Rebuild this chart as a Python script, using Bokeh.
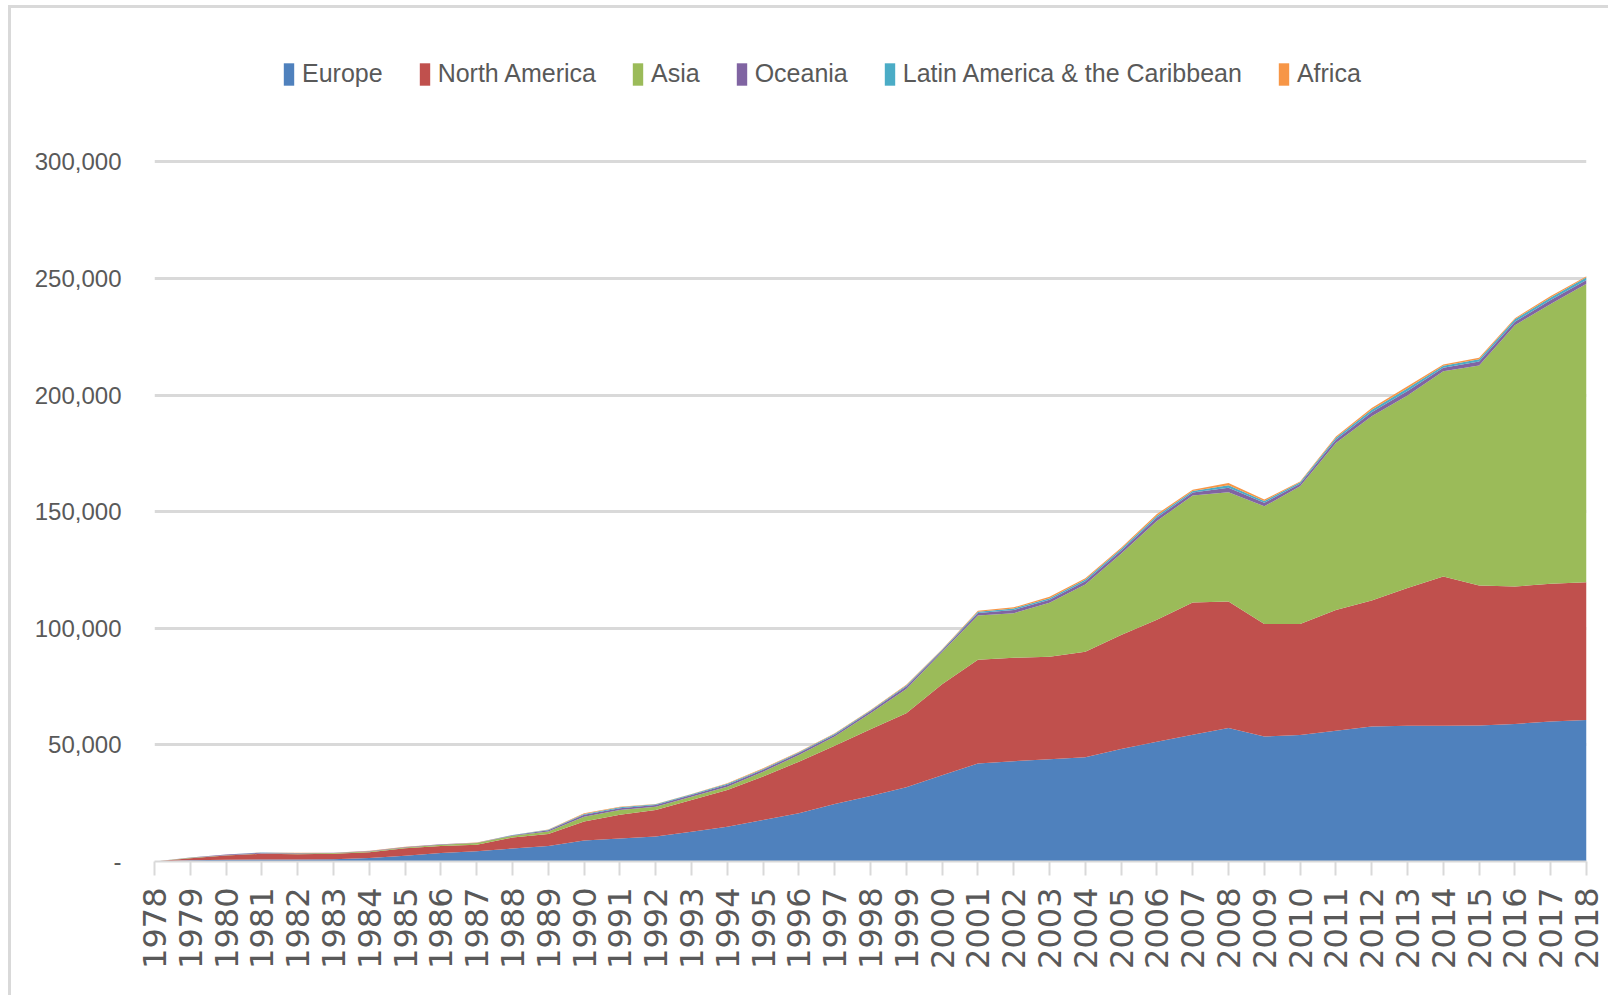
import numpy as np
from bokeh.plotting import figure
from bokeh.models import (ColumnDataSource, Range1d, FixedTicker, NumeralTickFormatter,
                          Legend, LegendItem)
from bokeh.embed import file_html
from bokeh.resources import INLINE

years = list(range(1978, 2019))
europe = [0, 500, 800, 900, 900, 1000, 1500, 2500, 3600, 4400,
          5600, 6600, 9000, 9900, 10700, 12800, 14900, 17800, 20700, 24700,
          28100, 31800, 37000, 42000, 43000, 43800, 44700, 48200, 51300, 54400,
          57200, 53600, 54300, 56100, 57900, 58200, 58200, 58300, 59000, 60000,
          60700]
north_america = [0, 900, 1800, 2400, 2200, 2300, 2500, 3200, 3100, 2800,
                 4700, 5200, 8100, 10100, 11400, 13600, 15800, 18600, 22100, 24900,
                 28600, 31800, 39000, 44500, 44400, 44000, 45300, 48900, 52400, 56700,
                 54300, 48300, 47600, 51800, 54000, 59100, 64000, 60100, 58900, 59100,
                 59000]
asia = [0, 200, 100, 100, 300, 300, 300, 300, 500, 700,
        700, 1100, 2100, 2100, 1400, 1400, 1400, 2100, 2900, 4000,
        6900, 10400, 13800, 19000, 19100, 23200, 28800, 34900, 42300, 45900,
        46800, 50400, 59000, 71600, 79000, 82500, 88000, 94300, 112100, 120000,
        128100]
oceania = [0, 100, 250, 400, 250, 100, 200, 200, 150, 150,
           300, 500, 800, 700, 700, 700, 800, 800, 800, 800,
           800, 1000, 700, 1100, 1400, 1300, 1400, 1300, 1500, 1200,
           2000, 1500, 1100, 1400, 1800, 2000, 1500, 1700, 1500, 1700,
           1600]
latin_america = [0, 0, 30, 50, 30, 0, 50, 50, 30, 30,
                 50, 200, 400, 500, 300, 300, 400, 400, 350, 350,
                 350, 450, 300, 500, 600, 600, 700, 700, 800, 700,
                 1000, 800, 600, 800, 1000, 1200, 900, 1000, 1000, 1100,
                 1100]
africa = [0, 0, 20, 50, 20, 0, 50, 50, 20, 20,
          50, 100, 300, 200, 200, 200, 300, 300, 250, 250,
          250, 350, 200, 400, 500, 600, 600, 500, 700, 500,
          1000, 600, 400, 600, 800, 800, 500, 600, 500, 600,
          500]

series_names = ["Europe", "North America", "Asia", "Oceania",
                "Latin America & the Caribbean", "Africa"]
series_keys = ["europe", "north_america", "asia", "oceania", "latin_america", "africa"]
colors = ["#4F81BD", "#C0504D", "#9BBB59", "#8064A2", "#4BACC6", "#F79646"]
y_ticks = [0, 50000, 100000, 150000, 200000, 250000, 300000]

source = ColumnDataSource(dict(year=years, europe=europe, north_america=north_america,
                               asia=asia, oceania=oceania, latin_america=latin_america,
                               africa=africa))

# frame extends to the canvas top so the legend can sit inside it, above the 300,000 line
p = figure(width=1600, height=990, output_backend="svg", toolbar_location=None,
           x_range=Range1d(1978, 2018), y_range=Range1d(0, 365800),
           min_border_left=143, min_border_right=25, min_border_top=0,
           min_border_bottom=137)
p.styles = {"border-top": "3px solid #d9d9d9", "border-left": "3px solid #d9d9d9",
            "margin-left": "8px", "margin-top": "5px"}
p.outline_line_color = None
p.background_fill_color = "white"

renderers = p.varea_stack(stackers=series_keys, x="year", color=colors, source=source)

p.xgrid.grid_line_color = None
p.ygrid.grid_line_color = "#d9d9d9"
p.ygrid.grid_line_width = 3

p.xaxis.ticker = FixedTicker(ticks=years)
p.xaxis.major_label_orientation = np.pi / 2
p.xaxis.axis_line_color = "#d9d9d9"
p.xaxis.axis_line_width = 2
p.xaxis.major_tick_line_color = "#d9d9d9"
p.xaxis.major_tick_line_width = 2
p.xaxis.major_tick_out = 14
p.xaxis.major_tick_in = 0
p.xaxis.minor_tick_line_color = None
p.xaxis.major_label_standoff = 12
p.xaxis.major_label_text_font = "DejaVu Sans"
p.xaxis.major_label_text_font_size = "32px"
p.xaxis.major_label_text_color = "#595959"

p.yaxis.ticker = FixedTicker(ticks=y_ticks)
p.yaxis.formatter = NumeralTickFormatter(format="0,0")
p.yaxis.major_label_overrides = {0: "-"}
p.yaxis.axis_line_color = None
p.yaxis.major_tick_line_color = None
p.yaxis.minor_tick_line_color = None
p.yaxis.major_tick_out = 0
p.yaxis.major_tick_in = 0
p.yaxis.major_label_standoff = 33
p.yaxis.major_label_text_font = "Liberation Sans"
p.yaxis.major_label_text_font_size = "24px"
p.yaxis.major_label_text_color = "#595959"

items = [LegendItem(label=n, renderers=[r]) for n, r in zip(series_names, renderers)]
legend = Legend(items=items, orientation="horizontal", location=(128, 773),
                glyph_width=13, glyph_height=28, label_height=28, label_standoff=7,
                spacing=35, padding=0, margin=0, border_line_color=None,
                background_fill_alpha=0,
                label_text_font="Liberation Sans", label_text_font_size="25px",
                label_text_color="#595959")
p.add_layout(legend)

open("out.html", "w").write(file_html(p, INLINE))
